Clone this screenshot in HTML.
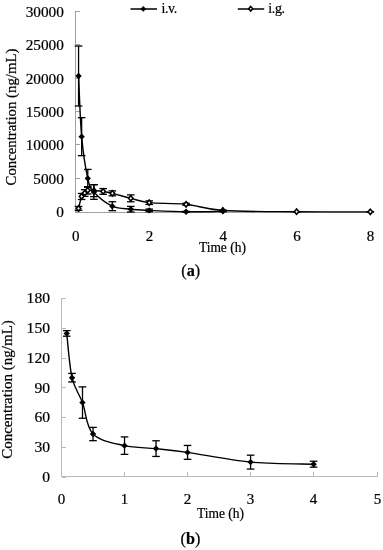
<!DOCTYPE html>
<html><head><meta charset="utf-8"><style>
html,body{margin:0;padding:0;background:#fff;}
body{width:383px;height:550px;overflow:hidden;}
svg{display:block;will-change:transform;}
text{stroke:#000;stroke-width:0.22px;}
</style></head><body>
<svg width="383" height="550" viewBox="0 0 383 550">
<rect width="383" height="550" fill="#fff"/>
<g stroke="#a0a0a0" stroke-width="1" fill="none" shape-rendering="crispEdges">
<line x1="75.5" y1="11" x2="75.5" y2="212.5"/>
<line x1="75" y1="212" x2="371" y2="212"/>
<line x1="75.5" y1="11.5" x2="79.5" y2="11.5"/>
<line x1="75.5" y1="44.5" x2="79.5" y2="44.5"/>
<line x1="75.5" y1="78.5" x2="79.5" y2="78.5"/>
<line x1="75.5" y1="111.5" x2="79.5" y2="111.5"/>
<line x1="75.5" y1="144.5" x2="79.5" y2="144.5"/>
<line x1="75.5" y1="178.5" x2="79.5" y2="178.5"/>
<line x1="75.5" y1="211.5" x2="79.5" y2="211.5"/>
</g>
<g font-family='"Liberation Serif", serif' font-size="15.3" fill="#000" text-anchor="end">
<text x="63.9" y="16.9">30000</text>
<text x="63.9" y="50.2">25000</text>
<text x="63.9" y="83.6">20000</text>
<text x="63.9" y="116.9">15000</text>
<text x="63.9" y="150.2">10000</text>
<text x="63.9" y="183.6">5000</text>
<text x="63.9" y="216.9">0</text>
</g>
<g font-family='"Liberation Serif", serif' font-size="15" fill="#000" text-anchor="middle">
<text x="75.8" y="240.8">0</text>
<text x="149.5" y="240.8">2</text>
<text x="223.2" y="240.8">4</text>
<text x="296.9" y="240.8">6</text>
<text x="370.6" y="240.8">8</text>
</g>
<text x="198.9" y="251.6" font-family='"Liberation Serif", serif' font-size="14.3" textLength="47" lengthAdjust="spacingAndGlyphs">Time (h)</text>
<text x="181.3" y="276.3" font-family='"Liberation Serif", serif' font-size="16.2">(<tspan font-weight="bold">a</tspan>)</text>
<text transform="translate(16.2,117.05) rotate(-90)" text-anchor="middle" font-family='"Liberation Serif", serif' font-size="14.8">Concentration (ng/mL)</text>
<g stroke="#000" stroke-width="1.5"><line x1="130.5" y1="9" x2="157" y2="9"/><line x1="237.8" y1="9" x2="264.2" y2="9"/></g>
<polygon points="143.30,6.00 146.20,8.90 143.30,11.80 140.40,8.90" fill="#000"/>
<polygon points="250.70,6.46 252.70,8.80 250.70,11.14 248.70,8.80" fill="#fff" stroke="#000" stroke-width="1.6"/>
<text x="161.4" y="13" font-family='"Liberation Serif", serif' font-size="14" letter-spacing="-0.35">i.v.</text>
<text x="268.2" y="13" font-family='"Liberation Serif", serif' font-size="14" letter-spacing="-0.35">i.g.</text>
<path d="M78.56,208.40 C79.07,206.41 80.63,199.03 81.65,196.47 C82.68,193.90 83.69,194.02 84.71,193.00 C85.73,191.98 86.24,190.72 87.77,190.33 C89.31,189.94 91.36,190.48 93.92,190.67 C96.49,190.86 100.07,191.02 103.14,191.47 C106.21,191.91 107.74,192.19 112.35,193.33 C116.96,194.48 124.63,196.78 130.78,198.33 C136.92,199.89 139.99,201.68 149.20,202.67 C158.41,203.66 173.77,202.97 186.05,204.27 C198.33,205.57 204.47,209.22 222.90,210.47 C241.33,211.71 272.03,211.51 296.60,211.73 C321.17,211.96 358.02,211.82 370.30,211.83" fill="none" stroke="#000" stroke-width="1.40"/>
<g stroke="#000" stroke-width="1.30">
<line x1="78.56" y1="206.47" x2="78.56" y2="210.33"/><line x1="74.76" y1="206.47" x2="82.36" y2="206.47"/><line x1="74.76" y1="210.33" x2="82.36" y2="210.33"/>
<line x1="81.65" y1="193.47" x2="81.65" y2="199.47"/><line x1="77.85" y1="193.47" x2="85.45" y2="193.47"/><line x1="77.85" y1="199.47" x2="85.45" y2="199.47"/>
<line x1="84.71" y1="189.67" x2="84.71" y2="196.33"/><line x1="80.91" y1="189.67" x2="88.51" y2="189.67"/><line x1="80.91" y1="196.33" x2="88.51" y2="196.33"/>
<line x1="87.77" y1="186.67" x2="87.77" y2="194.00"/><line x1="83.97" y1="186.67" x2="91.57" y2="186.67"/><line x1="83.97" y1="194.00" x2="91.57" y2="194.00"/>
<line x1="93.92" y1="184.67" x2="93.92" y2="196.67"/><line x1="90.12" y1="184.67" x2="97.72" y2="184.67"/><line x1="90.12" y1="196.67" x2="97.72" y2="196.67"/>
<line x1="103.14" y1="188.60" x2="103.14" y2="194.33"/><line x1="99.34" y1="188.60" x2="106.94" y2="188.60"/><line x1="99.34" y1="194.33" x2="106.94" y2="194.33"/>
<line x1="112.35" y1="190.87" x2="112.35" y2="195.80"/><line x1="108.55" y1="190.87" x2="116.15" y2="190.87"/><line x1="108.55" y1="195.80" x2="116.15" y2="195.80"/>
<line x1="130.78" y1="194.87" x2="130.78" y2="201.80"/><line x1="126.98" y1="194.87" x2="134.58" y2="194.87"/><line x1="126.98" y1="201.80" x2="134.58" y2="201.80"/>
<line x1="149.20" y1="200.87" x2="149.20" y2="204.47"/><line x1="145.40" y1="200.87" x2="153.00" y2="200.87"/><line x1="145.40" y1="204.47" x2="153.00" y2="204.47"/>
<line x1="186.05" y1="203.27" x2="186.05" y2="205.27"/><line x1="182.25" y1="203.27" x2="189.85" y2="203.27"/><line x1="182.25" y1="205.27" x2="189.85" y2="205.27"/>
<line x1="222.90" y1="210.07" x2="222.90" y2="210.87"/><line x1="219.10" y1="210.07" x2="226.70" y2="210.07"/><line x1="219.10" y1="210.87" x2="226.70" y2="210.87"/>
<line x1="296.60" y1="211.60" x2="296.60" y2="211.87"/><line x1="292.80" y1="211.60" x2="300.40" y2="211.60"/><line x1="292.80" y1="211.87" x2="300.40" y2="211.87"/>
<line x1="370.30" y1="211.70" x2="370.30" y2="211.97"/><line x1="366.50" y1="211.70" x2="374.10" y2="211.70"/><line x1="366.50" y1="211.97" x2="374.10" y2="211.97"/>
</g>
<polygon points="78.56,205.77 80.81,208.40 78.56,211.03 76.31,208.40" fill="#fff" stroke="#000" stroke-width="1.6"/>
<polygon points="81.65,193.83 83.90,196.47 81.65,199.10 79.40,196.47" fill="#fff" stroke="#000" stroke-width="1.6"/>
<polygon points="84.71,190.37 86.96,193.00 84.71,195.63 82.46,193.00" fill="#fff" stroke="#000" stroke-width="1.6"/>
<polygon points="87.77,187.70 90.02,190.33 87.77,192.97 85.52,190.33" fill="#fff" stroke="#000" stroke-width="1.6"/>
<polygon points="93.92,188.03 96.17,190.67 93.92,193.30 91.67,190.67" fill="#fff" stroke="#000" stroke-width="1.6"/>
<polygon points="103.14,188.83 105.39,191.47 103.14,194.10 100.89,191.47" fill="#fff" stroke="#000" stroke-width="1.6"/>
<polygon points="112.35,190.70 114.60,193.33 112.35,195.97 110.10,193.33" fill="#fff" stroke="#000" stroke-width="1.6"/>
<polygon points="130.78,195.70 133.03,198.33 130.78,200.97 128.53,198.33" fill="#fff" stroke="#000" stroke-width="1.6"/>
<polygon points="149.20,200.03 151.45,202.67 149.20,205.30 146.95,202.67" fill="#fff" stroke="#000" stroke-width="1.6"/>
<polygon points="186.05,201.63 188.30,204.27 186.05,206.90 183.80,204.27" fill="#fff" stroke="#000" stroke-width="1.6"/>
<polygon points="222.90,207.83 225.15,210.47 222.90,213.10 220.65,210.47" fill="#fff" stroke="#000" stroke-width="1.6"/>
<polygon points="296.60,209.10 298.85,211.73 296.60,214.37 294.35,211.73" fill="#fff" stroke="#000" stroke-width="1.6"/>
<polygon points="370.30,209.20 372.55,211.83 370.30,214.47 368.05,211.83" fill="#fff" stroke="#000" stroke-width="1.6"/>
<path d="M78.56,76.00 C79.07,86.11 80.12,119.60 81.65,136.67 C83.19,153.73 85.73,169.18 87.77,178.40 C89.82,187.62 89.83,187.37 93.92,192.00 C98.02,196.63 106.21,203.33 112.35,206.20 C118.49,209.07 124.63,208.50 130.78,209.20 C136.92,209.90 139.99,209.97 149.20,210.40 C158.41,210.83 173.77,211.64 186.05,211.80 C198.33,211.96 216.76,211.41 222.90,211.33" fill="none" stroke="#000" stroke-width="1.40"/>
<g stroke="#000" stroke-width="1.30">
<line x1="78.56" y1="46.00" x2="78.56" y2="106.00"/><line x1="74.76" y1="46.00" x2="82.36" y2="46.00"/><line x1="74.76" y1="106.00" x2="82.36" y2="106.00"/>
<line x1="81.65" y1="117.67" x2="81.65" y2="155.67"/><line x1="77.85" y1="117.67" x2="85.45" y2="117.67"/><line x1="77.85" y1="155.67" x2="85.45" y2="155.67"/>
<line x1="87.77" y1="169.40" x2="87.77" y2="187.40"/><line x1="83.97" y1="169.40" x2="91.57" y2="169.40"/><line x1="83.97" y1="187.40" x2="91.57" y2="187.40"/>
<line x1="93.92" y1="184.67" x2="93.92" y2="199.33"/><line x1="90.12" y1="184.67" x2="97.72" y2="184.67"/><line x1="90.12" y1="199.33" x2="97.72" y2="199.33"/>
<line x1="112.35" y1="201.73" x2="112.35" y2="210.67"/><line x1="108.55" y1="201.73" x2="116.15" y2="201.73"/><line x1="108.55" y1="210.67" x2="116.15" y2="210.67"/>
<line x1="130.78" y1="206.40" x2="130.78" y2="212.00"/><line x1="126.98" y1="206.40" x2="134.58" y2="206.40"/><line x1="126.98" y1="212.00" x2="134.58" y2="212.00"/>
<line x1="149.20" y1="209.07" x2="149.20" y2="211.73"/><line x1="145.40" y1="209.07" x2="153.00" y2="209.07"/><line x1="145.40" y1="211.73" x2="153.00" y2="211.73"/>
<line x1="186.05" y1="211.40" x2="186.05" y2="212.20"/><line x1="182.25" y1="211.40" x2="189.85" y2="211.40"/><line x1="182.25" y1="212.20" x2="189.85" y2="212.20"/>
<line x1="222.90" y1="210.93" x2="222.90" y2="211.73"/><line x1="219.10" y1="210.93" x2="226.70" y2="210.93"/><line x1="219.10" y1="211.73" x2="226.70" y2="211.73"/>
</g>
<polygon points="78.56,72.80 81.76,76.00 78.56,79.20 75.36,76.00" fill="#000"/>
<polygon points="81.65,133.47 84.85,136.67 81.65,139.87 78.45,136.67" fill="#000"/>
<polygon points="87.77,175.20 90.97,178.40 87.77,181.60 84.57,178.40" fill="#000"/>
<polygon points="93.92,188.80 97.12,192.00 93.92,195.20 90.72,192.00" fill="#000"/>
<polygon points="112.35,203.00 115.55,206.20 112.35,209.40 109.15,206.20" fill="#000"/>
<polygon points="130.78,206.00 133.97,209.20 130.78,212.40 127.58,209.20" fill="#000"/>
<polygon points="149.20,207.20 152.40,210.40 149.20,213.60 146.00,210.40" fill="#000"/>
<polygon points="186.05,208.60 189.25,211.80 186.05,215.00 182.85,211.80" fill="#000"/>
<polygon points="222.90,208.13 226.10,211.33 222.90,214.53 219.70,211.33" fill="#000"/>
<g stroke="#b8b8b8" stroke-width="1" fill="none" shape-rendering="crispEdges">
<line x1="61.5" y1="298" x2="61.5" y2="477"/>
<line x1="61" y1="476.5" x2="378" y2="476.5"/>
<line x1="61.5" y1="298.5" x2="66" y2="298.5"/>
<line x1="61.5" y1="328.5" x2="66" y2="328.5"/>
<line x1="61.5" y1="358.5" x2="66" y2="358.5"/>
<line x1="61.5" y1="387.5" x2="66" y2="387.5"/>
<line x1="61.5" y1="417.5" x2="66" y2="417.5"/>
<line x1="61.5" y1="447.5" x2="66" y2="447.5"/>
<line x1="61.5" y1="477.5" x2="66" y2="477.5"/>
<line x1="124.5" y1="472" x2="124.5" y2="476.5"/>
<line x1="187.5" y1="472" x2="187.5" y2="476.5"/>
<line x1="250.5" y1="472" x2="250.5" y2="476.5"/>
<line x1="313.5" y1="472" x2="313.5" y2="476.5"/>
<line x1="377.5" y1="472" x2="377.5" y2="476.5"/>
</g>
<g font-family='"Liberation Serif", serif' font-size="15.6" fill="#000" text-anchor="end">
<text x="50" y="303.3">180</text>
<text x="50" y="333.1">150</text>
<text x="50" y="362.8">120</text>
<text x="50" y="392.6">90</text>
<text x="50" y="422.4">60</text>
<text x="50" y="452.1">30</text>
<text x="50" y="481.9">0</text>
</g>
<g font-family='"Liberation Serif", serif' font-size="15" fill="#000" text-anchor="middle">
<text x="61.5" y="504.3">0</text>
<text x="124.5" y="504.3">1</text>
<text x="187.6" y="504.3">2</text>
<text x="250.6" y="504.3">3</text>
<text x="313.6" y="504.3">4</text>
<text x="377.4" y="504.3">5</text>
</g>
<text x="197" y="518.3" font-family='"Liberation Serif", serif' font-size="14.6" textLength="47" lengthAdjust="spacingAndGlyphs">Time (h)</text>
<text x="180.6" y="544.1" font-family='"Liberation Serif", serif' font-size="16.2">(<tspan font-weight="bold">b</tspan>)</text>
<text transform="translate(12.3,389.5) rotate(-90)" text-anchor="middle" font-family='"Liberation Serif", serif' font-size="15">Concentration (ng/mL)</text>
<path d="M66.73,333.42 C67.61,340.80 69.40,366.15 72.03,377.68 C74.65,389.20 78.99,393.19 82.49,402.58 C85.99,411.97 86.01,426.86 93.02,434.03 C100.02,441.21 114.03,443.21 124.53,445.64 C135.03,448.07 145.54,447.49 156.05,448.62 C166.55,449.74 171.80,450.14 187.56,452.39 C203.32,454.64 229.58,460.15 250.59,462.11 C271.60,464.08 303.12,463.85 313.62,464.20" fill="none" stroke="#000" stroke-width="1.40"/>
<g stroke="#000" stroke-width="1.30">
<line x1="66.73" y1="330.64" x2="66.73" y2="336.20"/><line x1="62.93" y1="330.64" x2="70.53" y2="330.64"/><line x1="62.93" y1="336.20" x2="70.53" y2="336.20"/>
<line x1="72.03" y1="373.41" x2="72.03" y2="381.94"/><line x1="68.23" y1="373.41" x2="75.83" y2="373.41"/><line x1="68.23" y1="381.94" x2="75.83" y2="381.94"/>
<line x1="82.49" y1="386.90" x2="82.49" y2="418.26"/><line x1="78.69" y1="386.90" x2="86.29" y2="386.90"/><line x1="78.69" y1="418.26" x2="86.29" y2="418.26"/>
<line x1="93.02" y1="427.39" x2="93.02" y2="440.68"/><line x1="89.22" y1="427.39" x2="96.81" y2="427.39"/><line x1="89.22" y1="440.68" x2="96.81" y2="440.68"/>
<line x1="124.53" y1="436.91" x2="124.53" y2="454.37"/><line x1="120.73" y1="436.91" x2="128.33" y2="436.91"/><line x1="120.73" y1="454.37" x2="128.33" y2="454.37"/>
<line x1="156.05" y1="440.78" x2="156.05" y2="456.46"/><line x1="152.25" y1="440.78" x2="159.85" y2="440.78"/><line x1="152.25" y1="456.46" x2="159.85" y2="456.46"/>
<line x1="187.56" y1="445.44" x2="187.56" y2="459.34"/><line x1="183.76" y1="445.44" x2="191.36" y2="445.44"/><line x1="183.76" y1="459.34" x2="191.36" y2="459.34"/>
<line x1="250.59" y1="455.17" x2="250.59" y2="469.06"/><line x1="246.79" y1="455.17" x2="254.39" y2="455.17"/><line x1="246.79" y1="469.06" x2="254.39" y2="469.06"/>
<line x1="313.62" y1="461.22" x2="313.62" y2="467.17"/><line x1="309.82" y1="461.22" x2="317.42" y2="461.22"/><line x1="309.82" y1="467.17" x2="317.42" y2="467.17"/>
</g>
<polygon points="66.73,330.22 69.93,333.42 66.73,336.62 63.53,333.42" fill="#000"/>
<polygon points="72.03,374.48 75.23,377.68 72.03,380.88 68.83,377.68" fill="#000"/>
<polygon points="82.49,399.38 85.69,402.58 82.49,405.78 79.29,402.58" fill="#000"/>
<polygon points="93.02,430.83 96.22,434.03 93.02,437.23 89.81,434.03" fill="#000"/>
<polygon points="124.53,442.44 127.73,445.64 124.53,448.84 121.33,445.64" fill="#000"/>
<polygon points="156.05,445.42 159.25,448.62 156.05,451.82 152.85,448.62" fill="#000"/>
<polygon points="187.56,449.19 190.76,452.39 187.56,455.59 184.36,452.39" fill="#000"/>
<polygon points="250.59,458.91 253.79,462.11 250.59,465.31 247.39,462.11" fill="#000"/>
<polygon points="313.62,461.00 316.82,464.20 313.62,467.40 310.42,464.20" fill="#000"/>
</svg>
</body></html>
